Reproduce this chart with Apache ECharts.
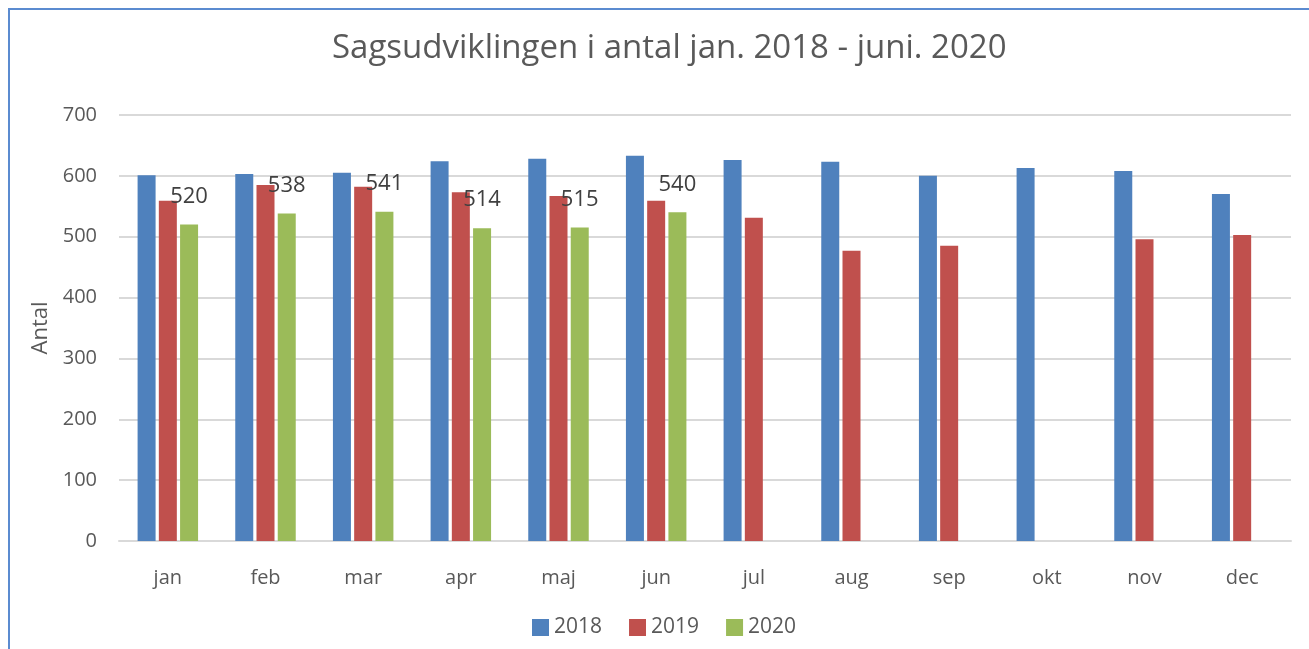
<!DOCTYPE html>
<html>
<head>
<meta charset="utf-8">
<script src="https://cdn.jsdelivr.net/npm/echarts@6/dist/echarts.min.js"></script>
<style>
  body { margin: 0; background: #fff; overflow: hidden; }
  #chart { width: 1309px; height: 649px; }
  .frame {
    position: absolute; left: 8px; top: 8px; right: -10px; bottom: -10px;
    border: 2px solid #5b8bd0; pointer-events: none;
  }
</style>
</head>
<body>
<div id="chart"></div>
<div class="frame"></div>
<script>
  // måneder
  const months = ['jan', 'feb', 'mar', 'apr', 'maj', 'jun', 'jul', 'aug', 'sep', 'okt', 'nov', 'dec']
  // antal sager pr. år
  const data2018 = [601, 603, 605, 624, 628, 633, 626, 623, 600, 613, 608, 570]
  const data2019 = [559, 585, 582, 573, 567, 559, 531, 477, 485, null, 496, 503]
  const data2020 = [520, 538, 541, 514, 515, 540, null, null, null, null, null, null]

  const font = 'Open Sans'
  const grey = '#595959'

  let chart = echarts.init(document.getElementById('chart'))
  let option = {
    animation: false,
    textStyle: { fontFamily: font },
    title: {
      text: 'Sagsudviklingen i antal jan. 2018 - juni. 2020',
      left: 327,
      top: 27,
      textStyle: { fontFamily: font, fontSize: 33, fontWeight: 'normal', color: grey }
    },
    legend: {
      bottom: 6,
      left: 527,
      itemWidth: 17,
      itemHeight: 17,
      itemGap: 27,
      icon: 'rect',
      textStyle: { fontFamily: font, fontSize: 21, color: grey }
    },
    grid: { left: 119, right: 18, top: 115, bottom: 108 },
    xAxis: {
      type: 'category',
      data: months,
      axisTick: { show: false },
      axisLine: { lineStyle: { color: '#d9d9d9', width: 2 } },
      axisLabel: { fontFamily: font, fontSize: 20, color: grey, margin: 27 }
    },
    yAxis: {
      type: 'value',
      min: 0,
      max: 700,
      interval: 100,
      name: 'Antal',
      nameLocation: 'middle',
      nameGap: 67,
      nameTextStyle: { fontFamily: font, fontSize: 22, color: grey },
      axisLine: { show: false },
      axisTick: { show: false },
      axisLabel: { fontFamily: font, fontSize: 20, color: grey, margin: 22 },
      splitLine: { lineStyle: { color: '#d9d9d9', width: 2 } }
    },
    series: [
      { name: '2018', type: 'bar', data: data2018, barWidth: 18, barGap: '18%', itemStyle: { color: '#4f81bd' } },
      { name: '2019', type: 'bar', data: data2019, barWidth: 18, barGap: '18%', itemStyle: { color: '#c0504d' } },
      {
        name: '2020', type: 'bar', data: data2020, barWidth: 18, barGap: '18%',
        itemStyle: { color: '#9bbb59' },
        label: {
          show: true, position: 'top', distance: 17,
          fontFamily: font, fontSize: 22, color: '#404040'
        }
      }
    ]
  }
  chart.setOption(option)
</script>
</body>
</html>
